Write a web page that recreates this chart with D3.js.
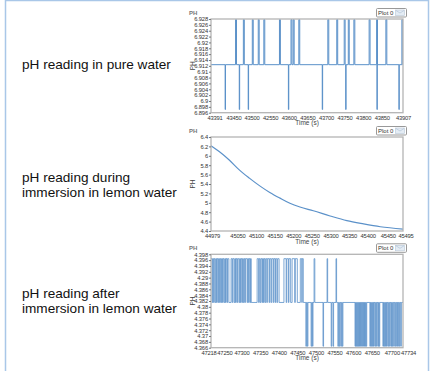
<!DOCTYPE html>
<html lang="en">
<head>
<meta charset="UTF-8">
<title>pH readings</title>
<style>
  body { margin: 0; background: #fff; }
  svg { display: block; font-family: "Liberation Sans", Arial, sans-serif; }
  .tick text { fill: #333; }
  .tick line { stroke: #777; }
</style>
</head>
<body>
<div id="chart"></div>
<script src="https://cdn.jsdelivr.net/npm/d3@7"></script>
<script>
// ---- data ----
// panel 1: pure water
const p1XTicks = [43391, 43450, 43500, 43550, 43600, 43650, 43700, 43750, 43800, 43850, 43907];
const p1XLabels = ["43391", "43450", "43500", "42550", "43600", "43650", "43700", "43750", "43800", "43850", "43907"];
const p1YTicks = [6.928, 6.926, 6.924, 6.922, 6.92, 6.918, 6.916, 6.914, 6.912, 6.91, 6.908, 6.906, 6.904, 6.902, 6.9, 6.898, 6.896];
const p1YLabels = ["6.928", "6.926", "6.924", "6.922", "6.92", "6.918", "6.916", "6.914", "6.912", "6.91", "6.908", "6.906", "6.904", "6.902", "6.9", "6.898", "6.896"];
const p1Base = 6.9124;
const p1UpValue = 6.9278;
const p1UpTimes = [43457, 43478, 43502, 43518, 43533, 43575, 43606, 43612, 43627, 43705, 43729, 43749, 43760, 43775, 43816, 43836, 43861, 43904];
const p1DownValue = 6.8971;
const p1DownTimes = [43429, 43467, 43491, 43599, 43690, 43753, 43837, 43896];

// panel 2: during immersion
const p2XTicks = [44979, 45050, 45100, 45150, 45200, 45250, 45300, 45350, 45400, 45450, 45495];
const p2XLabels = ["44979", "45050", "45100", "45150", "45200", "45250", "45300", "45350", "45400", "45450", "45495"];
const p2YTicks = [6.4, 6.2, 6, 5.8, 5.6, 5.4, 5.2, 5, 4.8, 4.6, 4.4];
const p2YLabels = ["6.4", "6.2", "6", "5.8", "5.6", "5.4", "5.2", "5", "4.8", "4.6", "4.4"];
const p2Times = [44979, 45001, 45028, 45055, 45083, 45110, 45137, 45164, 45191, 45218, 45254, 45299, 45344, 45389, 45434, 45495];
const p2Values = [6.215, 6.09, 5.91, 5.70, 5.52, 5.36, 5.22, 5.10, 4.99, 4.91, 4.83, 4.72, 4.62, 4.55, 4.49, 4.44];

// panel 3: after immersion
const p3XTicks = [47218, 47250, 47300, 47350, 47400, 47450, 47500, 47550, 47600, 47650, 47700, 47734];
const p3XLabels = ["47218", "47250", "47300", "47350", "47400", "47450", "47500", "47550", "47600", "47650", "47700", "47734"];
const p3YTicks = [4.398, 4.396, 4.394, 4.392, 4.39, 4.388, 4.386, 4.384, 4.382, 4.38, 4.378, 4.376, 4.374, 4.372, 4.37, 4.368, 4.366];
const p3YLabels = ["4.398", "4.396", "4.394", "4.392", "4.29", "4.388", "4.386", "4.384", "4.382", "4.38", "4.378", "4.376", "4.374", "4.372", "4.37", "4.368", "4.366"];
const p3Levels = [4.3665, 4.3815, 4.3965];
// runs of the underlying level [start, end, level]
const p3Runs = [
  [47218, 47266, 2], [47266, 47272, 1], [47272, 47326, 2], [47326, 47342, 1],
  [47342, 47401, 2], [47401, 47414, 1], [47414, 47432, 2], [47432, 47436, 1],
  [47436, 47450, 2], [47450, 47458, 1], [47458, 47466, 2], [47466, 47734, 1]
];
// short pulses [time, duration, level]
const p3Pulses = [
  [47221, 1.5, 1], [47225, 1.5, 1], [47229, 2, 1], [47233, 1.5, 1], [47237, 1.5, 1], [47241, 2, 1],
  [47245, 1.5, 1], [47249, 1.5, 1], [47253, 2, 1], [47257, 1.5, 1], [47261, 1.5, 1],
  [47275, 1.5, 1], [47280, 2, 1], [47284, 1.5, 1], [47288, 1.5, 1], [47293, 2, 1], [47297, 1.5, 1],
  [47301, 1.5, 1], [47305, 2, 1], [47309, 1.5, 1], [47315, 1.5, 1], [47319, 1.5, 1], [47323, 1.5, 1],
  [47346, 1.5, 1], [47350, 2, 1], [47355, 1.5, 1], [47359, 1.5, 1], [47363, 2, 1], [47368, 1.5, 1],
  [47374, 1.5, 1], [47379, 2, 1], [47385, 1.5, 1], [47390, 1.5, 1], [47395, 2, 1],
  [47420, 1.5, 1], [47426, 1.5, 1], [47443, 1.5, 1], [47462, 1, 1],
  [47495, 2, 2], [47530, 1.5, 2], [47554, 1.5, 2],
  [47473, 1.5, 0], [47477, 1.5, 0], [47487, 1.5, 0], [47491, 1, 0], [47519, 1.5, 0],
  [47541, 1.5, 0], [47546, 1.5, 0], [47559, 1.5, 0], [47563, 1.5, 0], [47567, 1.5, 0], [47571, 1.5, 0],
  [47605, 1.5, 0], [47608, 1.5, 0], [47611, 1.5, 0], [47614, 1.5, 0], [47617, 1.5, 0], [47620, 1.5, 0],
  [47623, 1.5, 0], [47626, 1.5, 0], [47629, 1.5, 0], [47632, 1.5, 0], [47635, 1.5, 0],
  [47645, 1.5, 0], [47648, 1.5, 0], [47652, 1.5, 0], [47655, 1.5, 0], [47659, 1.5, 0], [47663, 1.5, 0],
  [47667, 1.5, 0], [47670, 1.5, 0],
  [47680, 1.5, 0], [47683, 1.5, 0], [47687, 1.5, 0], [47690, 1.5, 0], [47694, 1.5, 0], [47698, 1.5, 0],
  [47702, 1.5, 0], [47705, 1.5, 0], [47709, 1.5, 0], [47713, 1.5, 0], [47717, 1.5, 0], [47720, 1.5, 0],
  [47724, 1.5, 0], [47728, 1.5, 0]
];

const captions = [
  ["pH reading in pure water"],
  ["pH reading during", "immersion in lemon water"],
  ["pH reading after", "immersion in lemon water"]
];

// ---- layout ----
const W = 433, H = 371;
const LEFT = 211, RIGHT = 403;
const LINE = "#5b91c9";

const svg = d3.select("#chart").append("svg")
  .attr("width", W).attr("height", H);

// outer frame
svg.append("rect")
  .attr("x", 5.5).attr("y", 0.5)
  .attr("width", 423).attr("height", H + 5)
  .attr("fill", "none").attr("stroke", "#a9c7e8").attr("stroke-width", 1.5);

// captions
const capY = [[69], [181.5, 196.5], [298, 313]];
captions.forEach((lines, i) => {
  lines.forEach((t, j) => {
    svg.append("text")
      .attr("x", 22).attr("y", capY[i][j])
      .attr("font-size", 13.6).attr("fill", "#111")
      .text(t);
  });
});

// build line points for panel 1
function spikes() {
  const ev = p1UpTimes.map(t => [t, 2.5, p1UpValue])
    .concat(p1DownTimes.map(t => [t, 1, p1DownValue]))
    .sort((a, b) => a[0] - b[0]);
  const pts = [[p1XTicks[0], p1Base]];
  ev.forEach(([t, d, v]) => {
    pts.push([t, p1Base], [t, v], [t + d, v], [t + d, p1Base]);
  });
  pts.push([p1XTicks[p1XTicks.length - 1], p1Base]);
  return pts;
}

function steps() {
  const pts = [];
  p3Runs.forEach(([s, e, lv]) => {
    pts.push([s, p3Levels[lv]]);
    p3Pulses.filter(p => p[0] >= s && p[0] < e).sort((a, b) => a[0] - b[0])
      .forEach(([t, d, pl]) => {
        pts.push([t, p3Levels[lv]], [t, p3Levels[pl]], [t + d, p3Levels[pl]], [t + d, p3Levels[lv]]);
      });
    pts.push([e, p3Levels[lv]]);
  });
  return pts;
}

// nudges of the crowded end labels, [first, second, secondLast, last]
const panels = [
  { top: 19, bottom: 112.7, xT: p1XTicks, xL: p1XLabels, yT: p1YTicks, yL: p1YLabels, pts: spikes(), width: 1,
    nudge: [3.5, 0.5, 0, 0] },
  { top: 137, bottom: 231, xT: p2XTicks, xL: p2XLabels, yT: p2YTicks, yL: p2YLabels,
    pts: p2Times.map((t, i) => [t, p2Values[i]]), width: 1.2, curve: d3.curveMonotoneX,
    nudge: [1, 0, 1.5, 2.5] },
  { top: 254.3, bottom: 347.7, xT: p3XTicks, xL: p3XLabels, yT: p3YTicks, yL: p3YLabels, pts: steps(), width: 0.8,
    nudge: [-2.5, 1.5, 1.5, 5] }
];

panels.forEach(p => {
  const x = d3.scaleLinear()
    .domain([p.xT[0], p.xT[p.xT.length - 1]])
    .range([LEFT, RIGHT]);
  const y = d3.scaleLinear()
    .domain([p.yT[p.yT.length - 1], p.yT[0]])
    .range([p.bottom, p.top]);

  const g = svg.append("g");

  // clip to plot area
  const id = "clip" + Math.round(p.top);
  svg.append("clipPath").attr("id", id)
    .append("rect").attr("x", LEFT).attr("y", p.top - 1)
    .attr("width", RIGHT - LEFT).attr("height", p.bottom - p.top + 2);

  g.append("path")
    .datum(p.pts)
    .attr("clip-path", `url(#${id})`)
    .attr("fill", "none")
    .attr("stroke", LINE)
    .attr("stroke-width", p.width)
    .attr("d", d3.line().x(d => x(d[0])).y(d => y(d[1])).curve(p.curve || d3.curveLinear));

  // plot box
  g.append("rect")
    .attr("x", LEFT).attr("y", p.top)
    .attr("width", RIGHT - LEFT).attr("height", p.bottom - p.top)
    .attr("fill", "none").attr("stroke", "#b4b4b4").attr("stroke-width", 1.3);

  // y axis
  g.append("g")
    .attr("transform", `translate(${LEFT},0)`)
    .call(d3.axisLeft(y).tickValues(p.yT).tickSize(2).tickPadding(1)
      .tickFormat((d, i) => p.yL[i]))
    .call(a => a.select(".domain").remove())
    .selectAll("text").attr("font-size", 5.8).attr("letter-spacing", -0.15);

  // x axis
  const n = p.xT.length;
  g.append("g")
    .attr("transform", `translate(0,${p.bottom})`)
    .call(d3.axisBottom(x).tickValues(p.xT).tickSize(0).tickPadding(2.8)
      .tickFormat((d, i) => p.xL[i]))
    .call(a => a.select(".domain").remove())
    .selectAll("text")
    .attr("font-size", 5.8).attr("letter-spacing", -0.2)
    .attr("dx", (d, i) => i === 0 ? p.nudge[0] : i === 1 ? p.nudge[1]
      : i === n - 2 ? p.nudge[2] : i === n - 1 ? p.nudge[3] : 0);

  // axis titles
  g.append("text")
    .attr("x", 307).attr("y", p.bottom + 12.5)
    .attr("text-anchor", "middle").attr("font-size", 6.5).attr("fill", "#444")
    .text("Time (s)");
  g.append("text")
    .attr("transform", `translate(195,${(p.top + p.bottom) / 2}) rotate(-90)`)
    .attr("text-anchor", "middle").attr("font-size", 6.5).attr("fill", "#444")
    .text("PH");
  g.append("text")
    .attr("x", 189).attr("y", p.top - 4)
    .attr("font-size", 6).attr("font-weight", "bold").attr("fill", "#777")
    .text("PH");

  // legend
  const lg = g.append("g").attr("transform", `translate(376,${p.top - 11})`);
  lg.append("rect").attr("x", 0.5).attr("y", 0.5).attr("width", 30).attr("height", 8.5)
    .attr("rx", 1).attr("fill", "#fff").attr("stroke", "#999");
  lg.append("text").attr("x", 2).attr("y", 7).attr("font-size", 6).attr("fill", "#333").text("Plot 0");
  lg.append("rect").attr("x", 19.5).attr("y", 2).attr("width", 9).attr("height", 5.5)
    .attr("fill", "#e4ecf4").attr("stroke", "#b8c6d6").attr("stroke-width", 0.6);
  lg.append("path").attr("d", "M20,2.5 L24,5 L28,2.5")
    .attr("fill", "none").attr("stroke", "#9fb4cc").attr("stroke-width", 0.5);
});
</script>
</body>
</html>
